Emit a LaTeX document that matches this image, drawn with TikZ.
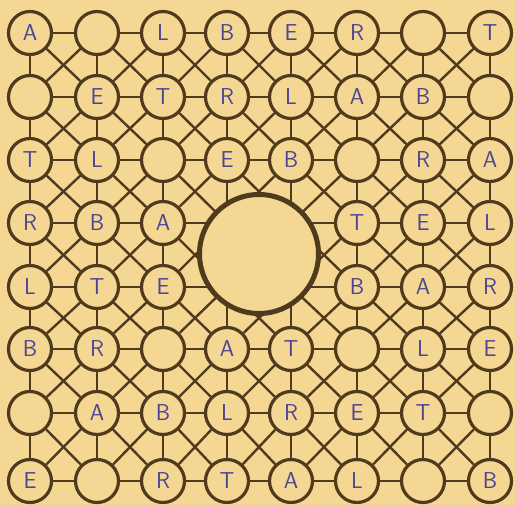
\documentclass[tikz,border=0pt]{standalone}
\usepackage{tikz}
\definecolor{papercolor}{RGB}{243, 215, 146}
\definecolor{inkcolor}{RGB}{80, 58, 30}
\definecolor{pencolor}{RGB}{78, 68, 150}

\begin{document}
\begin{tikzpicture}[x=1pt,y=-1pt]
    % Sizes of the letter circles and the big middle circle
    \newcommand{\cellsize}{43pt}
    \newcommand{\hubsize}{119pt}
    \tikzset{
        cell/.style={circle, draw=inkcolor, line width=3.2pt, fill=papercolor, minimum size=\cellsize, inner sep=0pt, text=pencolor, font=\sffamily\fontsize{23}{23}\selectfont},
        hub/.style={circle, draw=inkcolor, line width=5pt, fill=papercolor, minimum size=\hubsize},
        link/.style={draw=inkcolor, line width=2.4pt}
    }
    \def\colx{{30,97,163,227,291,357,423,490}}
    \def\rowy{{33,97,160,223,287,349,413,481}}

    % Paper
    \fill[papercolor] (0,0) rectangle (515,505);
    \useasboundingbox (0,0) rectangle (515,505);

    % Letter circles (the four middle places are only coordinates)
    \foreach \row [count=\r] in {{A,,L,B,E,R,,T},{,E,T,R,L,A,B,},{T,L,,E,B,,R,A},{R,B,A,,,T,E,L},{L,T,E,,,B,A,R},{B,R,,A,T,,L,E},{,A,B,L,R,E,T,},{E,,R,T,A,L,,B}}
        \foreach \ch [count=\c] in \row {
            \pgfmathsetmacro\xx{\colx[\c-1]}
            \pgfmathsetmacro\yy{\rowy[\r-1]}
            \pgfmathtruncatemacro\inhub{(\r>3)&&(\r<6)&&(\c>3)&&(\c<6)}
            \ifnum\inhub=1
                \coordinate (n\r\c) at (\xx,\yy);
            \else
                \node[cell] (n\r\c) at (\xx,\yy) {\ch};
            \fi
        }

    % Links to the right, down and both diagonals
    \foreach \r in {1,...,8}
        \foreach \c in {1,...,8} {
            \pgfmathtruncatemacro\rnext{\r+1}
            \pgfmathtruncatemacro\cnext{\c+1}
            \pgfmathtruncatemacro\cprev{\c-1}
            \ifnum\c<8 \draw[link] (n\r\c) -- (n\r\cnext); \fi
            \ifnum\r<8
                \draw[link] (n\r\c) -- (n\rnext\c);
                \ifnum\c<8 \draw[link] (n\r\c) -- (n\rnext\cnext); \fi
                \ifnum\c>1 \draw[link] (n\r\c) -- (n\rnext\cprev); \fi
            \fi
        }

    % Big middle circle
    \node[hub] (hub) at (259,254) {};
\end{tikzpicture}
\end{document}
